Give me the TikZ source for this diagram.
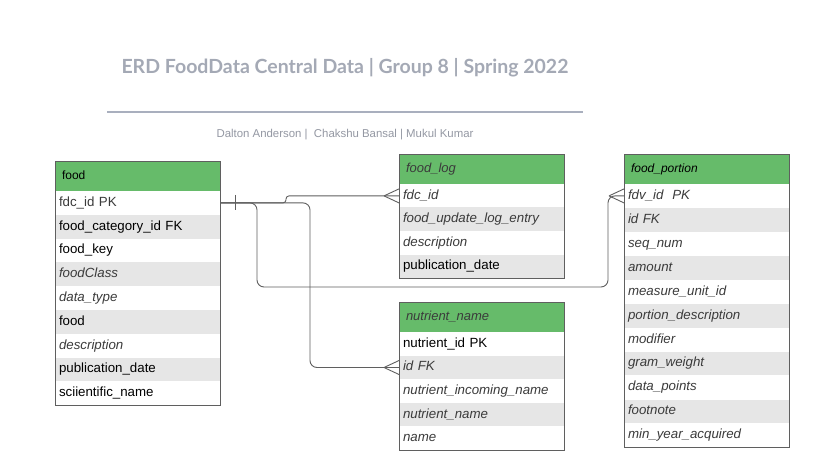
\documentclass[tikz,border=0pt]{standalone}
\usepackage{fontspec}
\setmainfont{Liberation Sans}
\newfontfamily\titelfont{Lato}
\usepackage{tikz}
\usetikzlibrary{positioning}

\definecolor{hodegronn}{HTML}{66BB6A}
\definecolor{radgraa}{HTML}{E6E6E6}
\definecolor{rammefarge}{HTML}{5F5F5F}
\definecolor{tekstgraa}{HTML}{3B3B3B}
\definecolor{titelgraa}{HTML}{A4A9B5}
\definecolor{strekfarge}{HTML}{A9AFBE}

\tikzset{
  ramme/.style={draw=rammefarge, line width=0.9pt},
  hode/.style={ramme, fill=hodegronn, anchor=north west, outer sep=0pt,
    inner xsep=7pt, minimum height=30pt, text width=151pt, align=left,
    text height=9.5pt, text depth=3pt},
  rad/.style={anchor=north west, outer sep=0pt, inner xsep=4pt,
    minimum height=23.8pt, text width=157pt, align=left,
    font=\fontsize{13.3}{15}\selectfont, text height=9.6pt, text depth=2.8pt},
  n/.style={text=black},
  g/.style={text=tekstgraa},
  k/.style={text=tekstgraa, font=\fontsize{13.3}{15}\selectfont\itshape},
  linje/.style={draw=rammefarge, line width=0.9pt},
}

\begin{document}
\begin{tikzpicture}[x=1pt, y=-1pt]
  \fill[white] (0,0) rectangle (813,470);

  % Tittel
  \node[anchor=base, text=titelgraa, font=\titelfont\bfseries\fontsize{19.5}{21}\selectfont]
    (titel) at (345,74) {ERD FoodData Central Data | Group 8 | Spring 2022};
  \draw[strekfarge, line width=1.2pt] (107,112) -- (583,112);
  \node[text=titelgraa!90!black, font=\fontsize{11.4}{13}\selectfont]
    (navn) at (345,135) {Dalton Anderson |\ \ Chakshu Bansal | Mukul Kumar};

  % Tabellen food
  \node[hode, font=\fontsize{12}{14}\selectfont] (food-h) at (55,161) {food};
  \foreach \txt/\stil [count=\i] in {{fdc\_id PK}/g, {food\_category\_id FK}/n,
      {food\_key}/n, {foodClass}/k, {data\_type}/k, {food}/n, {description}/k,
      {publication\_date}/n, {sciientific\_name}/n}{
    \ifodd\i \def\fyll{white}\else\def\fyll{radgraa}\fi
    \node[rad, \stil, fill=\fyll] (food-\i) at (55,{191+(\i-1)*23.8}) {\txt};
  }
  \draw[ramme] (food-h.north west) rectangle (food-9.south east);

  % Tabellen food_log
  \node[hode, text=tekstgraa, font=\fontsize{13}{15}\selectfont\itshape]
    (logg-h) at (399,154) {food\_log};
  \foreach \txt/\stil [count=\i] in {{fdc\_id}/k, {food\_update\_log\_entry}/k,
      {description}/k, {publication\_date}/n}{
    \ifodd\i \def\fyll{white}\else\def\fyll{radgraa}\fi
    \node[rad, \stil, fill=\fyll] (logg-\i) at (399,{184+(\i-1)*23.5}) {\txt};
  }
  \draw[ramme] (logg-h.north west) rectangle (logg-4.south east);

  % Tabellen nutrient_name
  \node[hode, text=tekstgraa, font=\fontsize{13}{15}\selectfont\itshape]
    (naer-h) at (399,302) {nutrient\_name};
  \foreach \txt/\stil [count=\i] in {{nutrient\_id PK}/n, {id FK}/k,
      {nutrient\_incoming\_name}/k, {nutrient\_name}/k, {name}/k}{
    \ifodd\i \def\fyll{white}\else\def\fyll{radgraa}\fi
    \node[rad, \stil, fill=\fyll] (naer-\i) at (399,{332+(\i-1)*23.6}) {\txt};
  }
  \draw[ramme] (naer-h.north west) rectangle (naer-5.south east);

  % Tabellen food_portion
  \node[hode, font=\fontsize{12}{14}\selectfont\itshape]
    (del-h) at (624,154) {food\_portion};
  \foreach \txt/\stil [count=\i] in {{fdv\_id\ \ PK}/k, {id FK}/k, {seq\_num}/k,
      {amount}/k, {measure\_unit\_id}/k, {portion\_description}/k, {modifier}/k,
      {gram\_weight}/k, {data\_points}/k, {footnote}/k, {min\_year\_acquired}/k}{
    \ifodd\i \def\fyll{white}\else\def\fyll{radgraa}\fi
    \node[rad, \stil, fill=\fyll] (del-\i) at (624,{184+(\i-1)*23.95}) {\txt};
  }
  \draw[ramme] (del-h.north west) rectangle (del-11.south east);

  % Linjer
  \draw[linje, rounded corners=3pt] (food-1.east) -- (286,0 |- food-1.east)
    -- (286,0 |- logg-1.west) -- (logg-1.west);
  \draw[linje, rounded corners=7pt] (food-1.east) -- (257,0 |- food-1.east)
    -- (257,287) -- (608,287) -- (608,0 |- del-1.west) -- (del-1.west);
  \draw[linje, rounded corners=7pt] (food-1.east) -- (310,0 |- food-1.east)
    -- (310,0 |- naer-2.west) -- (naer-2.west);
  \draw[linje] ([xshift=15pt, yshift=8pt]food-1.east) -- ([xshift=15pt, yshift=-7pt]food-1.east);
  \foreach \ende in {logg-1, del-1, naer-2}{
    \draw[linje] ([xshift=-15pt]\ende.west) -- ([yshift=7pt]\ende.west)
      ([xshift=-15pt]\ende.west) -- ([yshift=-7pt]\ende.west);
  }
\end{tikzpicture}
\end{document}
